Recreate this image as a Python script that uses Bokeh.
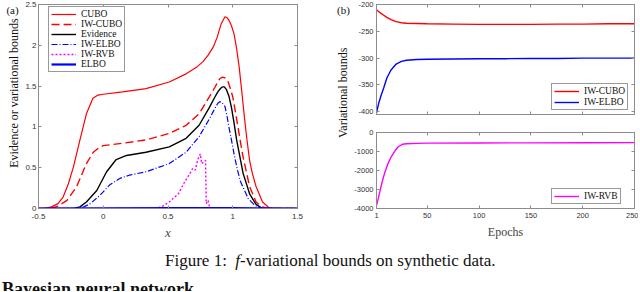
import math
from bokeh.plotting import figure
from bokeh.models import Range1d, FixedTicker, LinearAxis, Legend, LegendItem, Label, Div
from bokeh.layouts import column, row
from bokeh.embed import file_html
from bokeh.resources import INLINE

# ---------------- data: panel (a) ----------------
cubo_x = [-0.50, -0.46, -0.40, -0.35, -0.31, -0.27, -0.23, -0.18, -0.13, -0.08, -0.04, 0.00, 0.15,
          0.33, 0.51, 0.64, 0.72, 0.77, 0.81, 0.85, 0.88, 0.91, 0.94, 0.955, 0.97, 0.99, 1.01, 1.03,
          1.05, 1.07, 1.09, 1.11, 1.13, 1.15, 1.18, 1.23, 1.28, 1.32, 1.50]
cubo_y = [0.00, 0.00, 0.02, 0.06, 0.14, 0.30, 0.51, 0.84, 1.16, 1.35, 1.39, 1.40, 1.43,
          1.47, 1.55, 1.65, 1.73, 1.80, 1.88, 1.98, 2.10, 2.26, 2.35, 2.34, 2.31, 2.24, 2.14, 1.96,
          1.73, 1.43, 1.12, 0.84, 0.59, 0.44, 0.27, 0.08, 0.01, 0.00, 0.00]

iwcubo_x = [-0.50, -0.41, -0.35, -0.28, -0.205, -0.13, -0.077, -0.03, 0.00, 0.15, 0.33, 0.51, 0.64,
            0.74, 0.82, 0.86, 0.885, 0.90, 0.92, 0.94, 0.96, 0.98, 1.00, 1.02, 1.04, 1.06, 1.08,
            1.13, 1.18, 1.23, 1.27, 1.50]
iwcubo_y = [0.00, 0.00, 0.03, 0.10, 0.27, 0.55, 0.69, 0.75, 0.77, 0.80, 0.84, 0.92, 1.02,
            1.16, 1.37, 1.48, 1.55, 1.59, 1.61, 1.60, 1.57, 1.48, 1.37, 1.19, 1.00, 0.81, 0.63,
            0.27, 0.08, 0.02, 0.00, 0.00]

evid_x = [-0.50, -0.23, -0.18, -0.13, -0.05, 0.026, 0.10, 0.18, 0.33, 0.51, 0.64, 0.74, 0.82, 0.86,
          0.885, 0.905, 0.92, 0.935, 0.95, 0.97, 0.99, 1.01, 1.03, 1.08, 1.13, 1.18, 1.23, 1.50]
evid_y = [0.00, 0.00, 0.02, 0.08, 0.22, 0.45, 0.60, 0.65, 0.69, 0.755, 0.86, 1.02, 1.24, 1.36,
          1.43, 1.47, 1.49, 1.49, 1.46, 1.38, 1.24, 1.05, 0.84, 0.43, 0.18, 0.05, 0.00, 0.00]

iwelbo_x = [-0.50, -0.205, -0.15, -0.10, -0.026, 0.05, 0.13, 0.205, 0.33, 0.51, 0.64, 0.74, 0.82,
            0.85, 0.87, 0.885, 0.90, 0.92, 0.94, 0.955, 0.97, 0.99, 1.01, 1.035, 1.06, 1.12, 1.17,
            1.22, 1.50]
iwelbo_y = [0.00, 0.00, 0.02, 0.06, 0.16, 0.29, 0.37, 0.41, 0.45, 0.55, 0.69, 0.88, 1.10,
            1.19, 1.25, 1.29, 1.31, 1.29, 1.25, 1.14, 1.00, 0.84, 0.67, 0.48, 0.33, 0.12, 0.04,
            0.00, 0.00]

iwrvb_x = [-0.50, 0.41, 0.46, 0.51, 0.58, 0.63, 0.67, 0.69, 0.71, 0.73, 0.75, 0.76, 0.775, 0.79,
           0.795, 0.81, 0.82, 0.83, 1.50]
iwrvb_y = [0.00, 0.00, 0.03, 0.08, 0.18, 0.33, 0.43, 0.49, 0.47, 0.60, 0.67, 0.55, 0.57, 0.59,
           0.06, 0.10, 0.02, 0.00, 0.00]

elbo_x = [-0.50, 0.00, 0.50, 1.00, 1.50]
elbo_y = [0.000, 0.003, 0.005, 0.004, 0.000]

a_xticks = [-0.5, 0.0, 0.5, 1.0, 1.5]
a_xlabels = ["-0.5", "0", "0.5", "1", "1.5"]
a_yticks = [0.0, 0.5, 1.0, 1.5, 2.0, 2.5]
a_ylabels = ["0", "0.5", "1", "1.5", "2", "2.5"]

# ---------------- data: panel (b) ----------------
ep_top = [1, 3, 5, 8, 11, 15, 20, 25, 30, 40, 50, 75, 100, 125, 150, 175, 200, 225, 250]
iwcubo_ep = [-210, -213, -216, -220, -224, -228, -232, -234, -235, -235.5, -236, -236.5, -237, -237,
             -237, -236.5, -236.5, -236, -236]
iwelbo_ep = [-402, -385, -372, -355, -337, -322, -311, -306, -304, -302.5, -302, -301.5, -301, -301,
             -300.5, -300.5, -300, -300, -300]

ep_bot = [1, 3, 6, 9, 12, 15, 19, 22, 26, 30, 40, 50, 100, 150, 200, 250]
iwrvb_ep = [-3850, -3400, -2700, -2100, -1650, -1300, -950, -750, -620, -590, -570, -560, -550, -545,
            -540, -535]

b_xticks = [1, 50, 100, 150, 200, 250]
b_xlabels = ["1", "50", "100", "150", "200", "250"]
bt_yticks = [-400, -350, -300, -250, -200]
bt_ylabels = ["-400", "-350", "-300", "-250", "-200"]
bb_yticks = [-4000, -3000, -2000, -1000, 0]
bb_ylabels = ["-4000", "-3000", "-2000", "-1000", "0"]

FRAME = "#8c8c8c"
TICKTXT = "#333333"
SERIF = "Liberation Serif"
SANS = "Liberation Sans"


def style_axis(ax, ticks, labels, fs, show=True):
    ax.ticker = FixedTicker(ticks=ticks, minor_ticks=[])
    ax.major_tick_in = 3
    ax.major_tick_out = 0
    ax.minor_tick_in = 0
    ax.minor_tick_out = 0
    ax.axis_line_color = FRAME
    ax.major_tick_line_color = FRAME
    ax.major_label_text_font = SANS
    if show:
        ax.major_label_overrides = {t: l for t, l in zip(ticks, labels)}
        ax.major_label_text_color = TICKTXT
        ax.major_label_text_font_size = fs
    else:
        ax.major_label_text_color = None
        ax.major_label_text_font_size = "0px"
        ax.major_label_standoff = 0


def base_fig(w, h, xr, yr, bl, br, bt, bb):
    p = figure(width=w, height=h, x_range=Range1d(*xr), y_range=Range1d(*yr),
               output_backend="svg", toolbar_location=None,
               min_border_left=bl, min_border_right=br, min_border_top=bt, min_border_bottom=bb,
               margin=0)
    p.grid.visible = False
    p.outline_line_color = FRAME
    p.background_fill_color = "white"
    p.border_fill_color = "white"
    return p


def strip(w, h):
    s = figure(width=w, height=h, x_range=Range1d(0, 1), y_range=Range1d(0, 1),
               output_backend="svg", toolbar_location=None, min_border=0, margin=0)
    s.axis.visible = False
    s.grid.visible = False
    s.outline_line_color = None
    return s


def mirror(p, xt, yt):
    top = LinearAxis()
    style_axis(top, xt, None, None, show=False)
    p.add_layout(top, "above")
    rt = LinearAxis()
    style_axis(rt, yt, None, None, show=False)
    p.add_layout(rt, "right")


def style_legend(lg):
    lg.label_text_font = SERIF
    lg.label_text_font_size = "9.5px"
    lg.label_text_color = "#111111"
    lg.label_height = 10
    lg.glyph_height = 10
    lg.glyph_width = 25
    lg.label_standoff = 5
    lg.spacing = 0
    lg.padding = 2
    lg.margin = 0
    lg.border_line_color = "#333333"
    lg.border_line_width = 0.8
    lg.background_fill_color = "white"
    lg.background_fill_alpha = 1.0


# ---------------- panel (a) label strip ----------------
sa = strip(22, 245)
sa.add_layout(Label(x=0.636, y=0.566, text="Evidence or variational bounds", angle=math.pi / 2,
                    text_font=SERIF, text_font_size="12px", text_align="center",
                    text_baseline="middle", text_color="#111111"))
sa.add_layout(Label(x=0.545, y=0.971, text="(a)", text_font=SERIF, text_font_size="11px",
                    text_align="center", text_baseline="middle", text_color="#111111"))

# ---------------- panel (a) ----------------
pa = base_fig(312, 245, (-0.5, 1.5), (0, 2.5), 16, 37, 4, 37)
style_axis(pa.xaxis[0], a_xticks, a_xlabels, "8px")
style_axis(pa.yaxis[0], a_yticks, a_ylabels, "8px")
pa.xaxis[0].major_label_standoff = 5
pa.yaxis[0].major_label_standoff = 2
pa.xaxis[0].axis_label = "x"
pa.xaxis[0].axis_label_text_font = SERIF
pa.xaxis[0].axis_label_text_font_style = "italic"
pa.xaxis[0].axis_label_text_font_size = "13px"
pa.xaxis[0].axis_label_standoff = 3
mirror(pa, a_xticks, a_yticks)

r_cubo = pa.line(cubo_x, cubo_y, line_color="#ff0000", line_width=1.2)
r_iwcubo = pa.line(iwcubo_x, iwcubo_y, line_color="#ff0000", line_width=1.4, line_dash="8 4")
r_evid = pa.line(evid_x, evid_y, line_color="#000000", line_width=1.4)
r_iwelbo = pa.line(iwelbo_x, iwelbo_y, line_color="#0000ff", line_width=1.2, line_dash="6 2 1 2")
r_iwrvb = pa.line(iwrvb_x, iwrvb_y, line_color="#ff00ff", line_width=1.4, line_dash="2 2")
r_elbo = pa.line(elbo_x, elbo_y, line_color="#0000ff", line_width=2.2)

leg_a = Legend(items=[LegendItem(label="CUBO", renderers=[r_cubo]),
                      LegendItem(label="IW-CUBO", renderers=[r_iwcubo]),
                      LegendItem(label="Evidence", renderers=[r_evid]),
                      LegendItem(label="IW-ELBO", renderers=[r_iwelbo]),
                      LegendItem(label="IW-RVB", renderers=[r_iwrvb]),
                      LegendItem(label="ELBO", renderers=[r_elbo])],
               location=(10, 136))
style_legend(leg_a)
pa.add_layout(leg_a)

# ---------------- panel (b) label strip ----------------
pl = strip(16, 245)
pl.add_layout(Label(x=0.56, y=0.567, text="Variational bounds", angle=math.pi / 2,
                    text_font=SERIF, text_font_size="12px", text_align="center",
                    text_baseline="middle", text_color="#111111"))
pl.add_layout(Label(x=0.56, y=0.975, text="(b)", text_font=SERIF, text_font_size="11px",
                    text_align="center", text_baseline="middle", text_color="#111111"))

# ---------------- panel (b) top ----------------
pt = base_fig(288, 123, (1, 250), (-405, -200), 26, 4, 4, 9)
style_axis(pt.xaxis[0], b_xticks, None, None, show=False)
style_axis(pt.yaxis[0], bt_yticks, bt_ylabels, "7.5px")
pt.yaxis[0].major_label_standoff = 3
mirror(pt, b_xticks, bt_yticks)
r1 = pt.line(ep_top, iwcubo_ep, line_color="#ff0000", line_width=1.4)
r2 = pt.line(ep_top, iwelbo_ep, line_color="#0000ff", line_width=1.4)
leg_t = Legend(items=[LegendItem(label="IW-CUBO", renderers=[r1]),
                      LegendItem(label="IW-ELBO", renderers=[r2])], location=(175, 4))
style_legend(leg_t)
leg_t.spacing = 1
pt.add_layout(leg_t)

# ---------------- panel (b) bottom ----------------
pb = base_fig(288, 122, (1, 250), (-4000, 0), 26, 4, 9, 37)
style_axis(pb.xaxis[0], b_xticks, b_xlabels, "7.5px")
style_axis(pb.yaxis[0], bb_yticks, bb_ylabels, "7.5px")
pb.xaxis[0].major_label_standoff = 4
pb.yaxis[0].major_label_standoff = 3
pb.xaxis[0].axis_label = "Epochs"
pb.xaxis[0].axis_label_text_font = SERIF
pb.xaxis[0].axis_label_text_font_style = "normal"
pb.xaxis[0].axis_label_text_font_size = "12px"
pb.xaxis[0].axis_label_standoff = 4
mirror(pb, b_xticks, bb_yticks)
r3 = pb.line(ep_bot, iwrvb_ep, line_color="#ff00ff", line_width=1.4)
leg_b = Legend(items=[LegendItem(label="IW-RVB", renderers=[r3])], location=(175, 4))
style_legend(leg_b)
pb.add_layout(leg_b)

# ---------------- caption & heading ----------------
caption = Div(text=("<div style=\"font-family:'Liberation Serif'; font-size:17px; line-height:17px; "
                    "color:#111; padding-left:165px; padding-top:7px; white-space:nowrap;\">"
                    "Figure 1:&nbsp; <i>f</i>-variational bounds on synthetic data.</div>"),
              width=640, height=27, margin=0, styles={"overflow": "hidden"})
heading = Div(text=("<div style=\"font-family:'Liberation Serif'; font-size:18px; line-height:18px; "
                    "font-weight:bold; color:#111; padding-left:2px; padding-top:8px; white-space:nowrap;\">"
                    "Bayesian neural network</div>"),
              width=640, height=19, margin=0, styles={"overflow": "hidden"})

layout = column(row(sa, pa, pl, column(pt, pb, spacing=0, margin=0), spacing=0, margin=0),
                caption, heading, spacing=0, margin=0)

open("out.html", "w").write(file_html(layout, INLINE))
